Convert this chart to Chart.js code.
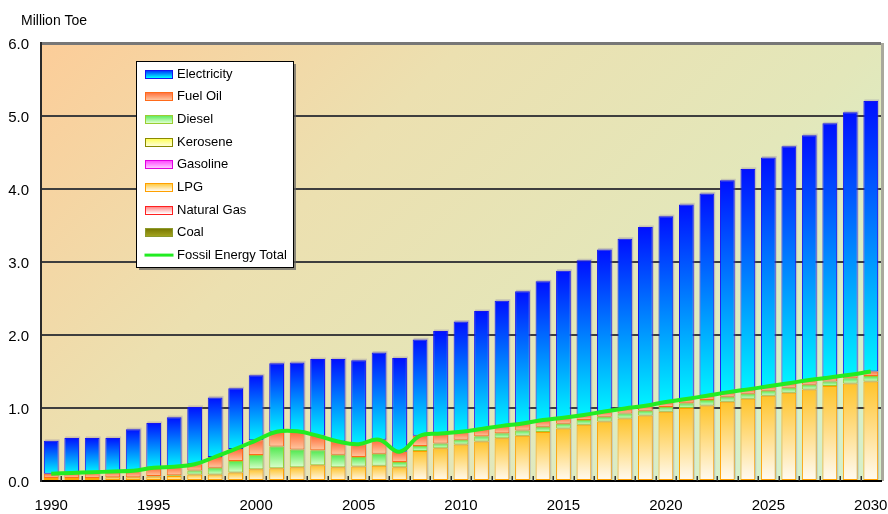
<!DOCTYPE html>
<html>
<head>
<meta charset="utf-8">
<script src="https://cdn.jsdelivr.net/npm/chart.js@4/dist/chart.umd.min.js"></script>
<style>
  html, body { margin: 0; padding: 0; background: #ffffff; }
  #wrap { width: 888px; height: 514px; position: relative; }
</style>
</head>
<body>
<div id="wrap"><canvas id="c" width="888" height="514"></canvas></div>
<script>
// Final energy demand by source, million toe (1990-2030)
const years = [];
for (let y = 1990; y <= 2030; y++) years.push(y);

const electricity = [0.45, 0.48, 0.47, 0.46, 0.57, 0.615, 0.68, 0.785, 0.815, 0.83,
  0.89, 0.94, 0.945, 1.05, 1.13, 1.15, 1.195, 1.285, 1.32, 1.405,
  1.51, 1.615, 1.715, 1.81, 1.90, 2.015, 2.12, 2.22, 2.325, 2.45,
  2.545, 2.665, 2.77, 2.905, 3.02, 3.135, 3.245, 3.355, 3.48, 3.595, 3.705];

const fuelOil = [0.06, 0.07, 0.08, 0.08, 0.09, 0.11, 0.115, 0.085, 0.15, 0.165,
  0.20, 0.20, 0.25, 0.20, 0.18, 0.175, 0.19, 0.14, 0.14, 0.135,
  0.11, 0.10, 0.10, 0.096, 0.092, 0.082, 0.07, 0.073, 0.069, 0.069,
  0.069, 0.06, 0.06, 0.06, 0.06, 0.06, 0.06, 0.064, 0.055, 0.05, 0.064];

const diesel = [0, 0, 0, 0, 0, 0.01, 0.01, 0.055, 0.09, 0.16,
  0.197, 0.30, 0.24, 0.205, 0.17, 0.13, 0.165, 0.07, 0.07, 0.065,
  0.065, 0.073, 0.069, 0.073, 0.073, 0.064, 0.064, 0.064, 0.069, 0.064,
  0.064, 0.064, 0.073, 0.069, 0.069, 0.069, 0.069, 0.064, 0.064, 0.069, 0.073];

const kerosene = new Array(41).fill(0);
const gasoline = new Array(41).fill(0);

const lpg = [0.04, 0.04, 0.04, 0.05, 0.05, 0.06, 0.07, 0.09, 0.09, 0.115,
  0.16, 0.174, 0.19, 0.215, 0.19, 0.20, 0.21, 0.19, 0.41, 0.45,
  0.50, 0.54, 0.586, 0.62, 0.67, 0.72, 0.77, 0.815, 0.856, 0.897,
  0.95, 1.0, 1.035, 1.085, 1.126, 1.168, 1.21, 1.255, 1.30, 1.337, 1.364];

const naturalGas = new Array(41).fill(0);
const coal = new Array(41).fill(0);

// Total of the fossil sources, drawn as the line
const fossilTotal = years.map((_, i) =>
  coal[i] + naturalGas[i] + lpg[i] + gasoline[i] + kerosene[i] + diesel[i] + fuelOil[i]);

const yTicks = [0, 1, 2, 3, 4, 5, 6];

const FONT = '"Liberation Sans", Arial, sans-serif';

// Bar series, bottom of the stack first
const barSeries = [
  { label: 'Coal',        data: coal,        top: '#767600', bottom: '#a4a420', border: '#8c9a2c' },
  { label: 'Natural Gas', data: naturalGas,  top: '#ff7070', bottom: '#ffffff', border: '#ff2020' },
  { label: 'LPG',         data: lpg,         top: '#ffc42a', bottom: '#fffbf4', border: '#ffa000' },
  { label: 'Gasoline',    data: gasoline,    top: '#ff40ff', bottom: '#ffd0ff', border: '#e000e0' },
  { label: 'Kerosene',    data: kerosene,    top: '#ffff40', bottom: '#ffffd0', border: '#8a8a00' },
  { label: 'Diesel',      data: diesel,      top: '#4ee84e', bottom: '#dcffce', border: '#9acd32' },
  { label: 'Fuel Oil',    data: fuelOil,     top: '#ff6a36', bottom: '#ffc8a2', border: '#ff6a1a' },
  { label: 'Electricity', data: electricity, top: '#0010ff', bottom: '#00f4ff', border: '#1414f0' }
];

function stackRange(si, i) {
  let base = 0;
  for (let k = 0; k < si; k++) base += barSeries[k].data[i];
  return [base, base + barSeries[si].data[i]];
}

function segmentFill(si) {
  const s = barSeries[si];
  return (c) => {
    const chart = c.chart;
    if (c.type !== 'data' || !chart.chartArea || !chart.scales.y) return s.top;
    const [lo, hi] = stackRange(si, c.dataIndex);
    const y0 = chart.scales.y.getPixelForValue(hi);
    const y1 = chart.scales.y.getPixelForValue(lo);
    if (!isFinite(y0) || !isFinite(y1) || y1 - y0 < 0.5) return s.top;
    const g = chart.ctx.createLinearGradient(0, y0, 0, y1);
    g.addColorStop(0, s.top);
    g.addColorStop(1, s.bottom);
    return g;
  };
}

const datasets = barSeries.map((s, si) => ({
  type: 'bar',
  label: s.label,
  data: s.data,
  backgroundColor: segmentFill(si),
  borderColor: s.border,
  borderWidth: 1,
  borderSkipped: false,
  stack: 'energy',
  order: 1,
  barPercentage: 0.72,
  categoryPercentage: 1.0
}));

datasets.push({
  type: 'line',
  label: 'Fossil Energy Total',
  data: fossilTotal,
  borderColor: '#22ec22',
  borderWidth: 4,
  pointRadius: 0,
  tension: 0.4,
  fill: false,
  order: 0
});

// Plot background, frame, bar shadows, inner ticks, axis title and legend
const decor = {
  id: 'decor',
  beforeDraw(chart) {
    const { ctx, chartArea: a } = chart;
    ctx.save();
    const g = ctx.createLinearGradient(a.left, a.top, a.left + 560, a.top + 556);
    g.addColorStop(0, '#fccd99');
    g.addColorStop(0.38, '#ece0b0');
    g.addColorStop(0.75, '#e3e7ba');
    g.addColorStop(1, '#d6f0ca');
    ctx.fillStyle = g;
    ctx.fillRect(a.left, a.top, a.right - a.left, a.bottom - a.top);
    // right-hand shadow of the plot frame
    ctx.fillStyle = '#a9a99c';
    ctx.fillRect(a.right, a.top, 3, a.bottom - a.top);
    ctx.restore();
  },
  beforeDatasetsDraw(chart) {
    const { ctx } = chart;
    const elecMeta = chart.getDatasetMeta(barSeries.length - 1);
    const yBase = chart.scales.y.getPixelForValue(0);
    ctx.save();
    ctx.fillStyle = 'rgba(120,110,170,0.28)';
    elecMeta.data.forEach((bar) => {
      const w = bar.width;
      ctx.fillRect(bar.x - w / 2 + 1, bar.y - 1.5, w, yBase - bar.y);
    });
    ctx.restore();
  },
  afterDatasetsDraw(chart) {
    const { ctx, chartArea: a } = chart;
    const xs = chart.scales.x;
    ctx.save();
    ctx.strokeStyle = '#303030';
    ctx.lineWidth = 1.5;
    for (let i = 0; i < years.length - 1; i++) {
      const x = Math.round((xs.getPixelForValue(i) + xs.getPixelForValue(i + 1)) / 2) + 0.25;
      ctx.beginPath();
      ctx.moveTo(x, a.bottom);
      ctx.lineTo(x, a.bottom - 5);
      ctx.stroke();
    }
    ctx.restore();
  },
  afterDraw(chart) {
    const { ctx } = chart;
    ctx.save();
    // axis unit
    ctx.fillStyle = '#000';
    ctx.font = '14px ' + FONT;
    ctx.textBaseline = 'alphabetic';
    ctx.textAlign = 'left';
    ctx.fillText('Million Toe', 21, 25);

    // legend box
    const bx = 136.5, by = 61.5, bw = 157, bh = 206;
    ctx.fillStyle = 'rgba(95,95,95,0.7)';
    ctx.fillRect(bx + 2.5, by + 2.5, bw, bh);
    ctx.fillStyle = '#ffffff';
    ctx.fillRect(bx, by, bw, bh);
    ctx.strokeStyle = '#000';
    ctx.lineWidth = 1;
    ctx.strokeRect(bx, by, bw, bh);

    const items = barSeries.slice().reverse().map(s => ({ kind: 'bar', s }));
    const line = chart.data.datasets[chart.data.datasets.length - 1];
    items.push({ kind: 'line', label: line.label, color: line.borderColor });

    ctx.font = '13px ' + FONT;
    ctx.textBaseline = 'middle';
    items.forEach((it, k) => {
      const cy = 73.5 + k * 22.7;
      const sx = 145.5, sw = 27;
      if (it.kind === 'bar') {
        const g = ctx.createLinearGradient(0, cy - 4, 0, cy + 4);
        g.addColorStop(0, it.s.top);
        g.addColorStop(1, it.s.bottom);
        ctx.fillStyle = g;
        ctx.fillRect(sx, Math.round(cy) - 4, sw, 8);
        ctx.strokeStyle = it.s.border;
        ctx.lineWidth = 1;
        ctx.strokeRect(sx, Math.round(cy) - 4 + 0.5, sw, 8);
        ctx.fillStyle = '#000';
        ctx.fillText(it.s.label, 177, cy + 0.5);
      } else {
        ctx.strokeStyle = it.color;
        ctx.lineWidth = 3;
        ctx.beginPath();
        ctx.moveTo(sx - 1, cy);
        ctx.lineTo(sx + sw + 1, cy);
        ctx.stroke();
        ctx.fillStyle = '#000';
        ctx.fillText(it.label, 177, cy + 0.5);
      }
    });
    ctx.restore();
  }
};

new Chart(document.getElementById('c'), {
  data: { labels: years.map(String), datasets },
  options: {
    responsive: false,
    animation: false,
    devicePixelRatio: 1,
    layout: { padding: { top: 43, right: 7, left: 0, bottom: 0 } },
    plugins: { legend: { display: false }, tooltip: { enabled: false } },
    scales: {
      x: {
        type: 'category',
        offset: true,
        stacked: true,
        grid: { display: false, drawTicks: false },
        border: { display: true, color: '#000', width: 2 },
        ticks: {
          autoSkip: false,
          maxRotation: 0,
          minRotation: 0,
          padding: 16,
          color: '#000',
          font: { family: FONT, size: 15 },
          callback: (v, i) => (years[i] % 5 === 0 ? String(years[i]) : '')
        },
        afterFit(scale) { scale.height = 33; scale.paddingLeft = 0; scale.paddingRight = 0; }
      },
      y: {
        stacked: true,
        min: 0,
        max: 6,
        afterBuildTicks(scale) { scale.ticks = yTicks.map(v => ({ value: v })); },
        grid: {
          drawTicks: false,
          color: (c) => (c.tick.value === 6 ? '#777777' : c.tick.value === 0 ? 'rgba(0,0,0,0)' : '#3e3e3e'),
          lineWidth: (c) => (c.tick.value === 6 ? 3 : 2)
        },
        border: { display: true, color: '#2a2a2a', width: 2 },
        ticks: {
          padding: 12,
          labelOffset: 1.5,
          color: '#000',
          font: { family: FONT, size: 15 },
          callback: (v) => Number(v).toFixed(1)
        },
        afterFit(scale) { scale.width = 41; }
      }
    }
  },
  plugins: [decor]
});
</script>
</body>
</html>
